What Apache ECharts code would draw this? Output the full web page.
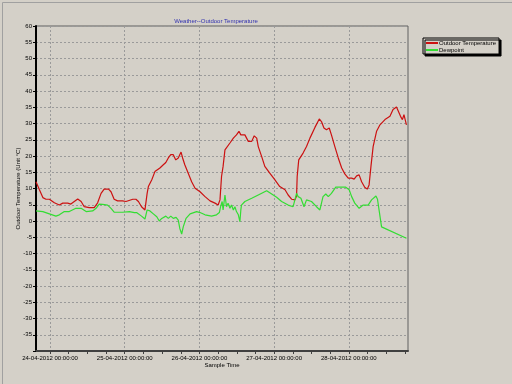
<!DOCTYPE html>
<html>
<head>
<meta charset="utf-8">
<script src="https://cdn.jsdelivr.net/npm/echarts@6/dist/echarts.min.js"></script>
<style>
html,body{margin:0;padding:0;background:#d4d0c8;}
#c{width:512px;height:384px;}
</style>
</head>
<body>
<div id="c"></div>
<script>
// Hours since 24-04-2012 00:00:00
const tempHours = [-4.5,-3.4,-2.3,-1.3,-0.2,1.4,3.0,4.1,5.7,6.7,7.8,8.9,10.0,11.0,12.6,14.2,15.3,16.4,17.4,18.8,19.6,20.6,21.7,23.3,24.4,24.9,26.6,27.6,28.4,29.4,30.5,30.8,31.2,31.6,32.7,33.7,35.3,36.4,37.2,38.0,38.8,39.6,40.4,41.2,41.7,42.1,42.6,43.3,44.4,45.5,46.6,48.2,49.8,51.4,53.0,54.0,54.6,55.1,55.6,56.2,56.7,57.8,58.9,59.9,60.7,61.3,62.6,63.7,64.8,65.6,66.4,66.9,68.0,69.0,70.6,72.2,73.8,75.5,76.5,77.6,78.7,79.2,79.4,79.9,81.3,82.4,83.5,85.1,86.5,87.2,88.0,88.8,89.7,90.4,91.5,92.6,93.7,94.7,95.8,96.9,97.7,98.5,99.3,100.1,101.1,101.9,102.5,103.1,103.8,104.9,106.0,107.6,109.2,110.2,111.3,111.8,112.6,113.2,113.7,114.5];
const tempValues = [12.1,9.6,7.2,6.7,6.7,5.6,4.9,5.5,5.5,5.2,6.0,6.8,6.0,4.4,4.1,4.1,5.6,8.5,9.8,9.8,9.0,6.7,6.2,6.2,6.0,5.5,6.7,6.7,6.0,4.4,3.4,3.1,8.5,10.6,12.7,15.2,16.3,17.3,18.0,19.4,20.4,20.4,18.8,19.4,18.8,21.2,19.4,17.3,14.7,12.1,10.1,9.0,7.5,6.2,5.5,4.9,6.5,13.7,16.8,21.9,22.4,24.0,25.5,26.5,27.6,26.5,26.5,24.5,24.5,26.2,25.5,22.9,19.8,16.8,14.7,12.7,10.6,9.6,8.0,6.7,6.5,7.7,13.7,18.8,20.9,22.9,25.5,28.8,31.4,30.6,28.6,28.1,28.6,26.5,22.9,19.4,16.3,14.5,13.2,13.2,12.9,13.9,14.2,12.1,10.4,9.8,11.1,16.8,22.9,27.6,29.6,31.2,32.2,34.3,35.1,34.8,32.2,31.2,32.7,29.6];
const dewHours = [-4.5,-2.3,-0.2,1.9,3.0,4.6,6.2,8.3,10.0,11.6,13.7,14.8,15.8,16.9,18.5,19.6,20.6,23.3,25.5,27.1,27.8,29.4,30.5,31.2,32.1,33.2,34.3,35.1,35.9,36.4,37.2,38.0,38.8,39.6,40.5,41.2,41.7,42.3,42.8,43.7,45.0,47.1,48.2,49.8,51.9,53.5,54.4,54.8,55.3,55.6,56.2,56.7,57.2,57.8,58.3,58.9,59.4,59.9,60.5,61.0,61.3,61.5,62.6,64.8,66.9,69.6,70.6,72.8,74.4,76.5,78.1,78.7,79.2,79.7,80.6,81.6,82.4,84.0,84.6,85.6,86.7,87.7,88.6,89.4,90.4,91.8,93.6,95.0,96.1,96.9,97.9,99.3,100.6,102.2,103.3,104.7,105.2,106.5,114.5];
const dewValues = [3.1,2.9,2.2,1.5,1.9,2.9,2.9,3.9,3.9,2.9,3.1,3.9,5.2,5.1,4.9,3.9,2.7,2.7,2.9,2.6,2.6,1.5,0.6,3.4,3.1,2.2,1.3,0.0,0.8,1.2,1.5,0.8,1.5,0.8,1.1,0.3,-2.3,-4.0,-1.8,0.8,2.2,2.9,2.6,1.9,1.5,1.9,2.6,4.4,6.0,3.4,8.0,4.4,5.5,3.9,4.9,3.4,4.4,2.9,1.9,-0.2,3.4,4.9,6.0,7.0,8.0,9.3,8.7,7.3,6.0,4.9,4.4,4.9,8.5,7.5,7.0,4.4,6.5,6.0,6.5,4.4,3.4,7.5,8.3,7.5,8.5,10.4,10.4,10.4,9.6,7.5,5.5,3.9,4.9,4.9,6.5,7.7,6.7,-1.8,-5.3];
const seriesNames = ['Outdoor Temperature', 'Dewpoint'];
const dayLabelHours = [0, 24, 48, 72, 96];
const minorTickHours = [0,6,12,18,24,30,36,42,48,54,60,66,72,78,84,90,96,102,108,114];
const yMin = -40, yMax = 60, yStep = 5;

function pad(n){ return (n < 10 ? '0' : '') + n; }
function hourLabel(h){
  const day = 24 + Math.floor(h / 24);
  const hr = h % 24;
  return pad(day) + '-04-2012 ' + pad(hr) + ':00:00';
}
function zip(a, b){ return a.map((x, i) => [x, b[i]]); }

const FONT = 'Liberation Sans';
const FS = 6;
const chart = echarts.init(document.getElementById('c'), null, {renderer: 'canvas'});
chart.setOption({
  backgroundColor: '#d4d0c8',
  animation: false,
  title: {
    text: 'Weather--Outdoor Temperature',
    left: 211, top: 13, textAlign: 'center',
    textStyle: {fontFamily: FONT, fontSize: FS, fontWeight: 'normal', color: '#3030b0'}
  },
  legend: {
    orient: 'vertical',
    left: 423, top: 38,
    padding: [2, 3, 1, 3],
    itemGap: 1,
    itemWidth: 12, itemHeight: 2,
    icon: 'rect',
    backgroundColor: '#d4d0c8',
    borderColor: '#000', borderWidth: 1, borderRadius: 0,
    shadowColor: '#000', shadowBlur: 0, shadowOffsetX: 2, shadowOffsetY: 2,
    textStyle: {fontFamily: FONT, fontSize: FS, color: '#000', padding: [0, 0, 0, -4]},
    data: seriesNames
  },
  grid: {
    left: 36, right: 104, top: 26, bottom: 33,
    show: true, borderColor: '#606060', borderWidth: 1, backgroundColor: 'transparent'
  },
  xAxis: [{
    type: 'value', min: -4.5, max: 115,
    name: 'Sample Time', nameLocation: 'middle', nameGap: 11, nameMoveOverlap: false,
    nameTextStyle: {fontFamily: FONT, fontSize: FS, color: '#000'},
    axisLine: {show: true, onZero: false, lineStyle: {color: '#404040', width: 2}},
    axisTick: {show: true, length: 3, customValues: minorTickHours, lineStyle: {color: '#404040'}},
    axisLabel: {customValues: dayLabelHours, formatter: v => hourLabel(v), margin: 4,
      fontFamily: FONT, fontSize: FS, color: '#000', hideOverlap: false},
    splitLine: {show: false}
  }, {
    type: 'value', min: -4.5, max: 115, position: 'bottom',
    axisLine: {show: false, onZero: false},
    axisTick: {show: false, customValues: dayLabelHours},
    axisLabel: {show: false},
    splitLine: {show: true, lineStyle: {color: '#9a9a9a', type: [2, 2], width: 1}}
  }],
  yAxis: {
    type: 'value', min: yMin, max: yMax, interval: yStep,
    name: 'Outdoor Temperature (Unit °C)', nameLocation: 'middle', nameGap: 15, nameMoveOverlap: false,
    nameTextStyle: {fontFamily: FONT, fontSize: FS, color: '#000'},
    axisLine: {show: true, onZero: false, lineStyle: {color: '#000', width: 2}},
    axisTick: {show: true, length: 3, lineStyle: {color: '#000'}},
    axisLabel: {fontFamily: FONT, fontSize: FS, color: '#000', margin: 4,
      formatter: v => (v === yMin ? '' : String(v))},
    splitLine: {show: true, lineStyle: {color: '#9a9a9a', type: [2, 2], width: 1}}
  },
  series: [{
    name: seriesNames[0], type: 'line', xAxisIndex: 0,
    data: zip(tempHours, tempValues), showSymbol: false, symbol: 'none',
    lineStyle: {color: '#cc1111', width: 1.2}, itemStyle: {color: '#cc1111'}
  }, {
    name: seriesNames[1], type: 'line', xAxisIndex: 0,
    data: zip(dewHours, dewValues), showSymbol: false, symbol: 'none',
    lineStyle: {color: '#33dd33', width: 1.2}, itemStyle: {color: '#33dd33'}
  }],
  graphic: [{
    type: 'rect', left: 0, top: 0, silent: true,
    shape: {x: 0.5, y: 0.5, width: 511, height: 383},
    style: {fill: 'none', stroke: '#a0a0a0', lineWidth: 1}
  }]
});
</script>
</body>
</html>
